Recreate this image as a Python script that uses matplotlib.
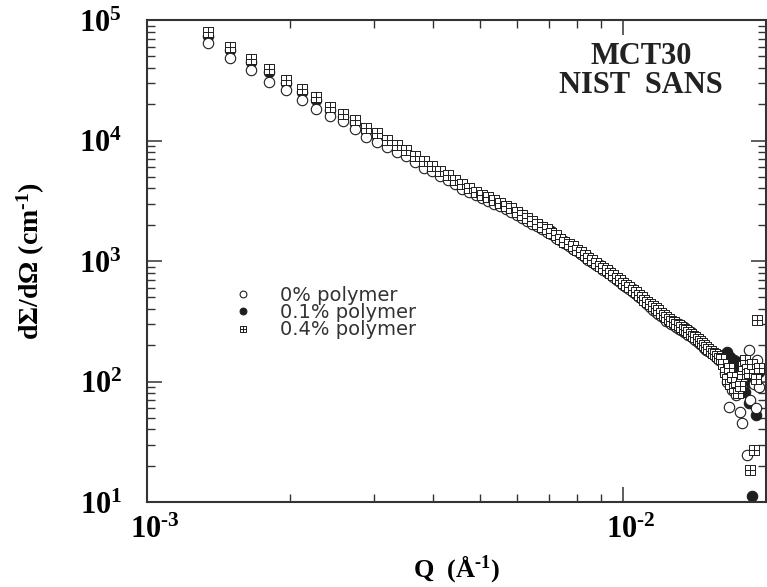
import matplotlib
matplotlib.use('Agg')
import matplotlib.pyplot as plt
import matplotlib.transforms as mtransforms
from matplotlib.path import Path
from matplotlib.ticker import NullFormatter

plt.rcParams['mathtext.fontset'] = 'custom'
plt.rcParams['mathtext.rm'] = 'Liberation Serif:bold'
plt.rcParams['mathtext.bf'] = 'Liberation Serif:bold'
plt.rcParams['mathtext.it'] = 'Liberation Serif:bold'

# Q (1/Angstrom), NIST SANS
q = [0.001340, 0.001495, 0.001650, 0.001805, 0.001960, 0.002115, 0.002270, 0.002425, 0.002580, 0.002735,
     0.002890, 0.003045, 0.003200, 0.003355, 0.003510, 0.003665, 0.003820, 0.003975, 0.004130, 0.004285,
     0.004440, 0.004595, 0.004750, 0.004905, 0.005060, 0.005215, 0.005370, 0.005525, 0.005680, 0.005835,
     0.005990, 0.006145, 0.006300, 0.006455, 0.006610, 0.006765, 0.006920, 0.007075, 0.007230, 0.007385,
     0.007540, 0.007695, 0.007850, 0.008005, 0.008160, 0.008315, 0.008470, 0.008625, 0.008780, 0.008935,
     0.009090, 0.009245, 0.009400, 0.009555, 0.009710, 0.009865, 0.010020, 0.010175, 0.010330, 0.010485,
     0.010640, 0.010795, 0.010950, 0.011105, 0.011260, 0.011415, 0.011570, 0.011725, 0.011880, 0.012035,
     0.012190, 0.012345, 0.012500, 0.012655, 0.012810, 0.012965, 0.013120, 0.013275, 0.013430, 0.013585,
     0.013740, 0.013895, 0.014050, 0.014205, 0.014360, 0.014515, 0.014670, 0.014825, 0.014980, 0.015135,
     0.015290, 0.015445, 0.015600, 0.015755, 0.015910, 0.016065, 0.016220, 0.016375, 0.016530, 0.016685,
     0.016840, 0.016995, 0.017150, 0.017305, 0.017460, 0.017615, 0.017770, 0.017925, 0.018080, 0.018235,
     0.018390, 0.018545, 0.018700, 0.018855, 0.019010, 0.019165, 0.019320]

# dSigma/dOmega (1/cm)
i_0pct = [64400, 48400, 38500, 30500, 26200, 21700, 18200, 16000, 14500, 12400,
          10700, 9680, 8810, 8040, 7400, 6680, 5960, 5550, 5060, 4680,
          4320, 3980, 3720, 3510, 3320, 3140, 2990, 2850, 2720, 2570,
          2430, 2290, 2160, 2040, 1950, 1840, 1740, 1680, 1550, 1510,
          1400, 1330, 1260, 1200, 1140, 1080, 1020, 977, 923, 891,
          841, 804, 776, 733, 700, 668, 631, 610, 582, 556,
          531, 507, 484, 462, 437, 417, 394, 376, 363, 347,
          335, 320, 309, 302, 292, 282, 275, 269, 260, 251,
          245, 237, 229, 221, 211, 204, 200, 191, 184, 178,
          174, 168, 162, 158, 151, 148, 140, 118, 100, 61,
          125, 85, 105, 78, 95, 56, 45, 110, 130, 24.5,
          182, 70, 120, 95, 60, 150, 90]

i_01pct = [74100, 56200, 44700, 36700, 29900, 25100, 21600, 17800, 15700, 14000,
           12000, 10900, 9770, 8810, 8130, 7240, 6610, 5960, 5430, 5010,
           4620, 4270, 3940, 3670, 3470, 3270, 3130, 2950, 2820, 2690,
           2510, 2400, 2240, 2110, 2000, 1910, 1820, 1760, 1600, 1480,
           1460, 1350, 1270, 1240, 1150, 1100, 1070, 989, 944, 923,
           861, 813, 804, 750, 708, 684, 668, 617, 596, 582,
           537, 525, 490, 479, 452, 437, 417, 398, 385, 367,
           351, 339, 327, 316, 309, 299, 302, 292, 285, 275,
           266, 257, 245, 234, 226, 214, 209, 200, 191, 186,
           180, 176, 172, 166, 160, 157, 165, 150, 175, 140,
           160, 130, 150, 125, 145, 120, 105, 130, 82, 115,
           66, 100, 11.2, 140, 53, 93, 120]

i_04pct = [79400, 59700, 47400, 39200, 31800, 26700, 23000, 19000, 16600, 14800,
           12700, 11500, 10100, 9230, 8390, 7500, 6790, 6150, 5610, 5130,
           4730, 4370, 4030, 3760, 3560, 3370, 3200, 3020, 2880, 2750,
           2570, 2430, 2290, 2160, 2040, 1930, 1840, 1720, 1640, 1530,
           1450, 1380, 1320, 1230, 1190, 1120, 1060, 1010, 966, 912,
           871, 841, 794, 759, 724, 692, 661, 631, 603, 575,
           556, 525, 501, 479, 457, 442, 422, 407, 389, 372,
           359, 343, 331, 320, 309, 302, 292, 282, 275, 266,
           257, 248, 240, 232, 224, 216, 207, 200, 193, 186,
           180, 174, 170, 164, 158, 155, 140, 120, 105, 130,
           95, 110, 88, 100, 80, 92, 115, 135, 150, 128,
           118, 18.5, 140, 27, 105, 324, 130]

labels = ['0% polymer', '0.1% polymer', '0.4% polymer']
x_exps = [-3, -2]
y_exps = [1, 2, 3, 4, 5]

# square with a cross in it
box_plus = Path([(-1, -1), (1, -1), (1, 1), (-1, 1), (-1, -1), (0, -1), (0, 1), (-1, 0), (1, 0)],
                [Path.MOVETO, Path.LINETO, Path.LINETO, Path.LINETO, Path.CLOSEPOLY,
                 Path.MOVETO, Path.LINETO, Path.MOVETO, Path.LINETO])

fig = plt.figure(figsize=(7.67, 5.87), dpi=100)
ax = fig.add_axes([0.1917, 0.1448, 0.807, 0.8211])

ink = '#1e1e1e'
ms = 7.5
h_fill, = ax.plot(q, i_01pct, ls='none', marker='o', ms=ms, mfc=ink, mec=ink, mew=0.8, zorder=2)
h_open, = ax.plot(q, i_0pct, ls='none', marker='o', ms=ms, mfc='white', mec=ink, mew=0.8, zorder=3)
h_box, = ax.plot(q, i_04pct, ls='none', marker=box_plus, ms=ms, mfc='white', mec=ink, mew=0.7, zorder=4)

ax.set_xscale('log')
ax.set_yscale('log')
ax.set_xlim(1e-3, 2e-2)
ax.set_ylim(10, 1e5)

ax.set_xticks([10.0 ** e for e in x_exps])
ax.set_xticklabels([r'$10^{\text{-%d}}$' % -e for e in x_exps])
ax.set_yticks([10.0 ** e for e in y_exps])
ax.set_yticklabels([r'$10^{%d}$' % e for e in y_exps])
ax.xaxis.set_minor_formatter(NullFormatter())
ax.yaxis.set_minor_formatter(NullFormatter())

ax.tick_params(which='both', direction='in', top=True, right=True, color='#333333')
ax.tick_params(which='major', length=11, width=1.1)
ax.tick_params(which='minor', length=6, width=1.0)
ax.tick_params(axis='y', which='major', pad=18, labelsize=22)
ax.tick_params(axis='x', which='major', pad=9, labelsize=22)
for s in ax.spines.values():
    s.set_linewidth(1.5)
    s.set_color('#333333')

shift = mtransforms.ScaledTranslation(0.08, 0, fig.dpi_scale_trans)
for lab in ax.get_xticklabels():
    lab.set_transform(lab.get_transform() + shift)

ax.set_xlabel(r'Q  (Å$^{\text{-1}}$)', fontsize=19, fontweight='bold', family='Liberation Serif', labelpad=7)
ax.set_ylabel(r'dΣ/dΩ (cm$^{\text{-1}}$)', fontsize=20, fontweight='bold', family='Liberation Serif', labelpad=23)

ax.text(0.798, 0.894, 'MCT30\nNIST  SANS', transform=ax.transAxes, ha='center', va='center',
        fontsize=22, fontweight='bold', family='Liberation Serif', linespacing=0.98, color='#222222')

leg = ax.legend([h_open, h_fill, h_box], labels, loc='upper left', bbox_to_anchor=(0.1394, 0.449),
                frameon=False, fontsize=14, markerscale=0.65, handlelength=1.0, handletextpad=1.4,
                labelspacing=-0.08, borderpad=0, borderaxespad=0)
for t in leg.get_texts():
    t.set_color('#333333')

fig.savefig('out.png', dpi=100)
